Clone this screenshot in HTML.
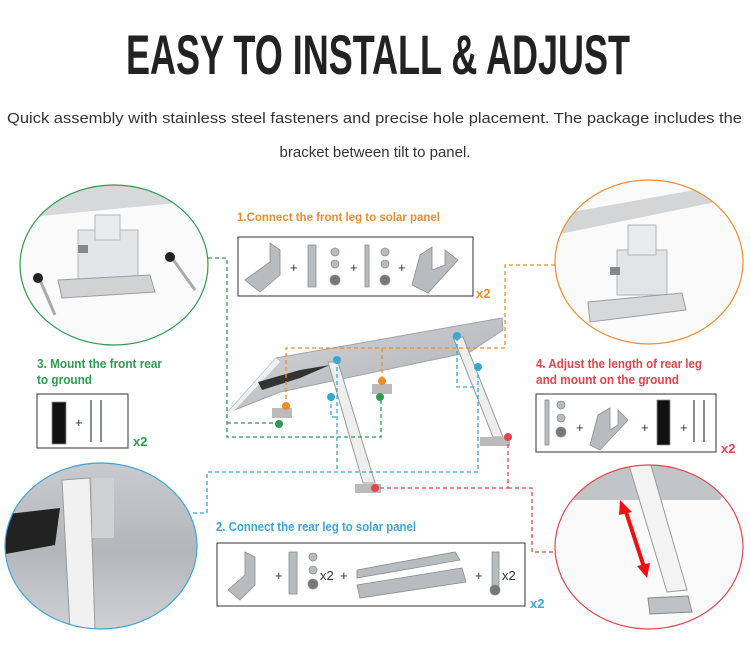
<!DOCTYPE html>
<html><head><meta charset="utf-8"><style>
html,body{margin:0;padding:0;background:#fff;}
svg{display:block;}
text{font-family:"Liberation Sans",sans-serif;}
</style></head><body>
<svg width="750" height="646" viewBox="0 0 750 646" xmlns="http://www.w3.org/2000/svg">
<defs>
<linearGradient id="pg" x1="0" y1="0" x2="1" y2="1"><stop offset="0" stop-color="#d8dadc"/><stop offset="1" stop-color="#a9adb1"/></linearGradient>
<linearGradient id="bg" x1="0" y1="0" x2="0" y2="1"><stop offset="0" stop-color="#c9ccce"/><stop offset="0.5" stop-color="#b4b7ba"/><stop offset="1" stop-color="#d2d4d6"/></linearGradient>
<clipPath id="c1"><ellipse cx="114" cy="265" rx="94" ry="80"/></clipPath>
<clipPath id="c2"><ellipse cx="649" cy="262" rx="94" ry="82"/></clipPath>
<clipPath id="c3"><ellipse cx="101" cy="546" rx="96" ry="83"/></clipPath>
<clipPath id="c4"><ellipse cx="649" cy="547" rx="94" ry="82"/></clipPath>
</defs>
<text x="126" y="74" font-size="56" font-weight="bold" fill="#222" textLength="504" lengthAdjust="spacingAndGlyphs">EASY TO INSTALL &amp; ADJUST</text>
<text x="7" y="123" font-size="15" fill="#333" textLength="735" lengthAdjust="spacingAndGlyphs">Quick assembly with stainless steel fasteners and precise hole placement. The package includes the</text>
<text x="375" y="157" font-size="15" fill="#333" text-anchor="middle">bracket between tilt to panel.</text>

<!-- green circle -->
<g clip-path="url(#c1)">
<rect x="0" y="180" width="220" height="170" fill="#fafafa"/>
<polygon points="20,180 208,180 208,200 20,218" fill="#d6d8da"/>
<rect x="78" y="230" width="60" height="55" fill="#e4e5e6" stroke="#b5b8bb"/>
<rect x="95" y="215" width="25" height="25" fill="#e9eaeb" stroke="#b5b8bb"/>
<rect x="78" y="245" width="10" height="8" fill="#888"/>
<polygon points="58,280 150,275 155,292 62,298" fill="#d0d2d4" stroke="#9a9da0"/>
<line x1="40" y1="280" x2="55" y2="315" stroke="#aaa" stroke-width="3"/>
<circle cx="38" cy="278" r="5" fill="#222"/>
<line x1="172" y1="258" x2="195" y2="290" stroke="#aaa" stroke-width="3"/>
<circle cx="170" cy="257" r="5" fill="#222"/>
</g>
<ellipse cx="114" cy="265" rx="94" ry="80" fill="none" stroke="#2e9b50" stroke-width="1.2"/>
<!-- orange circle -->
<g clip-path="url(#c2)">
<rect x="550" y="178" width="200" height="170" fill="#fafafa"/>
<polygon points="555,215 750,180 750,195 555,235" fill="#d3d5d7"/>
<rect x="617" y="250" width="50" height="45" fill="#e3e4e5" stroke="#b0b3b6"/>
<rect x="628" y="225" width="28" height="30" fill="#e9eaeb" stroke="#b0b3b6"/>
<rect x="610" y="267" width="10" height="8" fill="#888"/>
<polygon points="588,302 682,293 686,310 590,322" fill="#d6d8da" stroke="#9a9da0"/>
</g>
<ellipse cx="649" cy="262" rx="94" ry="82" fill="none" stroke="#ec8c2e" stroke-width="1.2"/>
<!-- blue circle -->
<g clip-path="url(#c3)">
<rect x="0" y="460" width="200" height="180" fill="url(#bg)"/>
<polygon points="0,515 60,508 55,545 0,555" fill="#222"/>
<polygon points="62,480 90,478 95,630 70,630" fill="#f1f1f1" stroke="#999"/>
<rect x="92" y="478" width="22" height="60" fill="#cfd1d3"/>
</g>
<ellipse cx="101" cy="546" rx="96" ry="83" fill="none" stroke="#3aa6d8" stroke-width="1.2"/>
<!-- red circle -->
<g clip-path="url(#c4)">
<rect x="550" y="462" width="200" height="170" fill="#fafafa"/>
<polygon points="555,462 750,462 720,500 555,500" fill="#c2c5c8"/>
<polygon points="628,462 650,462 687,590 667,592" fill="#f3f3f3" stroke="#999"/>
<polygon points="648,598 688,596 692,612 650,614" fill="#bfc2c5" stroke="#888"/>
<line x1="626" y1="512" x2="644" y2="567" stroke="#e11" stroke-width="4"/>
<polygon points="620,500 632,512 619,515" fill="#e11"/>
<polygon points="647,578 637,566 650,563" fill="#e11"/>
</g>
<ellipse cx="649" cy="547" rx="94" ry="82" fill="none" stroke="#e0464b" stroke-width="1.2"/>

<!-- labels -->
<g font-weight="bold">
<text x="237" y="221" font-size="12" fill="#ec8c2e" textLength="203" lengthAdjust="spacingAndGlyphs">1.Connect the front leg to solar panel</text>
<text x="37" y="368" font-size="13" fill="#2e9b50" textLength="125" lengthAdjust="spacingAndGlyphs">3. Mount the front rear</text>
<text x="37" y="384" font-size="13" fill="#2e9b50" textLength="55" lengthAdjust="spacingAndGlyphs">to ground</text>
<text x="536" y="368" font-size="13" fill="#e0464b" textLength="166" lengthAdjust="spacingAndGlyphs">4. Adjust the length of rear leg</text>
<text x="536" y="384" font-size="13" fill="#e0464b" textLength="143" lengthAdjust="spacingAndGlyphs">and mount on the ground</text>
<text x="216" y="531" font-size="13" fill="#3aa6d8" textLength="200" lengthAdjust="spacingAndGlyphs">2. Connect the rear leg to solar panel</text>
<text x="476" y="298" font-size="13" fill="#ec8c2e">x2</text>
<text x="133" y="446" font-size="13" fill="#2e9b50">x2</text>
<text x="721" y="453" font-size="13" fill="#e0464b">x2</text>
<text x="530" y="608" font-size="13" fill="#3aa6d8">x2</text>
</g>
<rect x="238" y="237" width="235" height="59" fill="#fff" stroke="#333" stroke-width="1"/>
<rect x="37" y="394" width="91" height="54" fill="#fff" stroke="#333"/>
<rect x="536" y="394" width="180" height="58" fill="#fff" stroke="#333"/>
<rect x="217" y="543" width="308" height="63" fill="#fff" stroke="#333"/>

<!-- box contents -->
<g fill="#b9bcbf" stroke="#8a8d90" stroke-width="0.8">
<polygon points="245,280 270,262 270,243 280,250 280,275 260,292"/>
<rect x="308" y="245" width="8" height="42"/><circle cx="335" cy="252" r="4"/><circle cx="335" cy="264" r="4"/><circle cx="335" cy="280" r="5" fill="#777"/>
<rect x="365" y="245" width="4" height="42"/><circle cx="385" cy="252" r="4"/><circle cx="385" cy="264" r="4"/><circle cx="385" cy="280" r="5" fill="#777"/>
<polygon points="412,285 420,255 432,247 432,270 445,265 445,250 458,260 428,293"/>
<rect x="52" y="402" width="14" height="42" fill="#111"/>
<line x1="91" y1="400" x2="91" y2="442" stroke-width="2"/><line x1="101" y1="400" x2="101" y2="442" stroke-width="2"/>
<rect x="545" y="400" width="4" height="45"/><circle cx="561" cy="405" r="4"/><circle cx="561" cy="418" r="4"/><circle cx="561" cy="432" r="5" fill="#777"/>
<polygon points="590,445 598,415 610,408 610,430 618,425 618,410 628,420 600,450"/>
<rect x="657" y="400" width="13" height="45" fill="#111"/>
<line x1="694" y1="400" x2="694" y2="442" stroke-width="2"/><line x1="704" y1="400" x2="704" y2="442" stroke-width="2"/>
<polygon points="228,590 245,575 245,552 255,557 255,585 240,600"/>
<rect x="289" y="552" width="8" height="42"/><circle cx="313" cy="557" r="4"/><circle cx="313" cy="570" r="4"/><circle cx="313" cy="584" r="5" fill="#777"/>
<polygon points="357,570 455,552 460,560 357,578"/>
<polygon points="357,585 462,568 466,582 360,598"/>
<rect x="492" y="552" width="7" height="35"/><circle cx="495" cy="590" r="5" fill="#777"/>
</g>
<g font-size="13" fill="#333">
<text x="290" y="272">+</text><text x="350" y="272">+</text><text x="398" y="272">+</text>
<text x="75" y="427">+</text>
<text x="576" y="432">+</text><text x="641" y="432">+</text><text x="680" y="432">+</text>
<text x="275" y="580">+</text><text x="320" y="580">x2</text><text x="340" y="580">+</text><text x="475" y="580">+</text><text x="502" y="580">x2</text>
</g>

<!-- central panel -->
<polygon points="227,413 276,358 502,318 503,330 470,352 280,392" fill="url(#pg)" stroke="#a0a4a8"/>
<polygon points="227,413 276,358 280,362 232,413" fill="#eef0f1"/>
<polygon points="258,382 300,370 330,365 300,378 262,390" fill="#333"/>
<polygon points="328,362 338,362 375,483 363,483" fill="#eeeeee" stroke="#999"/>
<polygon points="453,337 463,337 503,437 493,437" fill="#eeeeee" stroke="#999"/>
<rect x="355" y="484" width="26" height="9" fill="#bbb"/>
<rect x="480" y="437" width="30" height="9" fill="#bbb"/>
<rect x="272" y="408" width="20" height="10" fill="#bbb"/>
<rect x="372" y="384" width="20" height="10" fill="#bbb"/>

<!-- connectors -->
<g fill="none" stroke-width="1.3" stroke-dasharray="4,3">
<polyline stroke="#2e9b50" points="208,258 227,258 227,437 381,437 381,398"/>
<polyline stroke="#2e9b50" points="227,423 279,423"/>
<polyline stroke="#ec8c2e" points="555,265 505,265 505,348 286,348 286,406"/>
<polyline stroke="#ec8c2e" points="382,348 382,381"/>
<polyline stroke="#3aa6d8" points="193,513 207,513 207,472 478,472 478,367"/>
<polyline stroke="#3aa6d8" points="337,360 337,472"/>
<polyline stroke="#3aa6d8" points="331,397 331,417 337,417"/>
<polyline stroke="#3aa6d8" points="457,337 457,387 477,387"/>
<polyline stroke="#e0464b" points="508,437 508,488 375,488"/>
<polyline stroke="#e0464b" points="508,488 532,488 532,552 556,552"/>
</g>
<g>
<circle cx="286" cy="406" r="4" fill="#ec8c2e"/><circle cx="382" cy="381" r="4" fill="#ec8c2e"/>
<circle cx="279" cy="424" r="4" fill="#2e9b50"/><circle cx="380" cy="397" r="4" fill="#2e9b50"/>
<circle cx="337" cy="360" r="4" fill="#3aa6d8"/><circle cx="331" cy="397" r="4" fill="#3aa6d8"/>
<circle cx="457" cy="336" r="4" fill="#3aa6d8"/><circle cx="478" cy="367" r="4" fill="#3aa6d8"/>
<circle cx="375" cy="488" r="4" fill="#e0464b"/><circle cx="508" cy="437" r="4" fill="#e0464b"/>
</g>
</svg>
</body></html>
